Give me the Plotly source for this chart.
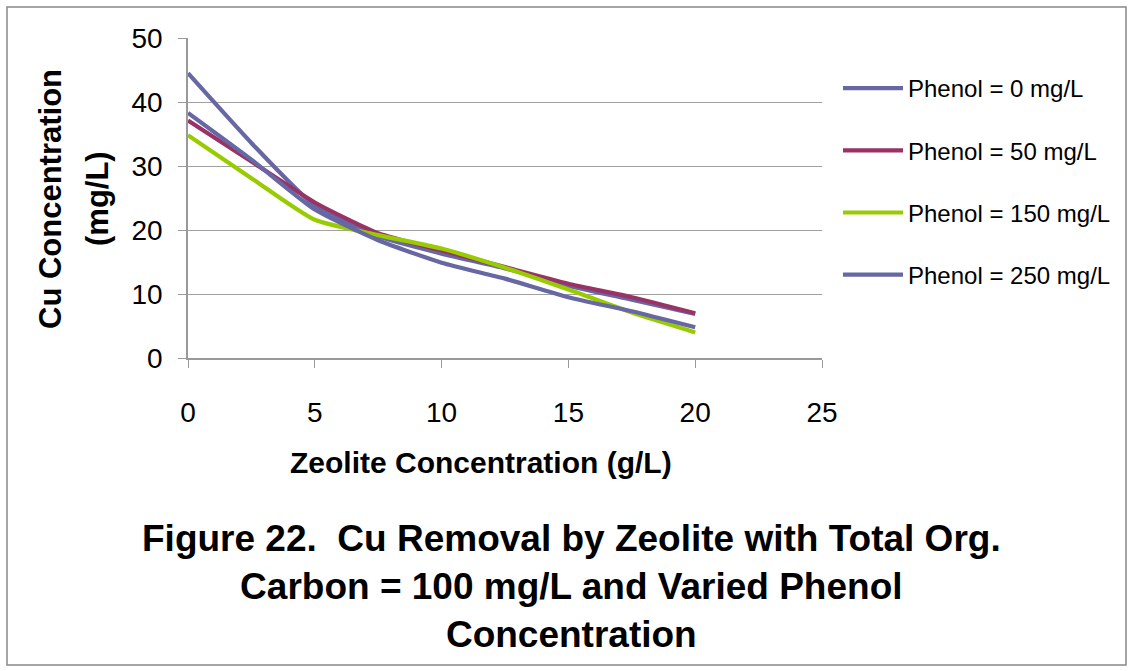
import plotly.graph_objects as go

# ---- data ----
zeolite = [0, 2.5, 5, 7.5, 10, 12.5, 15, 17.5, 20]
phenol_0 = [44.5, 33.6, 23.8, 19.0, 16.3, 14.0, 11.3, 9.1, 6.9]
phenol_50 = [37.1, 30.7, 24.3, 19.5, 16.8, 14.2, 11.6, 9.5, 7.0]
phenol_150 = [34.8, 28.1, 21.6, 19.2, 17.1, 14.1, 10.7, 7.1, 4.0]
phenol_250 = [38.3, 31.0, 23.2, 18.4, 14.9, 12.4, 9.5, 7.3, 4.8]
series_names = ["Phenol = 0 mg/L", "Phenol = 50 mg/L", "Phenol = 150 mg/L", "Phenol = 250 mg/L"]
series_colors = ["#6767A3", "#993366", "#99CC00", "#6767A3"]
x_ticks = [0, 5, 10, 15, 20, 25]
y_ticks = [0, 10, 20, 30, 40, 50]

W, H = 1133, 671
L, R, T, B = 188, 822, 38, 358
FONT = "Liberation Sans, Arial, sans-serif"

def px(xp):
    return (xp - L) / (R - L)

def py(yp):
    return (B - yp) / (B - T)

fig = go.Figure()
for i, (name, ys) in enumerate(zip(series_names, [phenol_0, phenol_50, phenol_150, phenol_250])):
    fig.add_trace(go.Scatter(
        x=zeolite, y=ys, mode="lines", name=name,
        line=dict(color=series_colors[i], width=4.2, shape="spline", smoothing=0.55),
        legendgroup=str(i),
    ))

fig.update_layout(
    width=W, height=H,
    margin=dict(l=L, r=W - R, t=T, b=H - B, pad=0),
    paper_bgcolor="white", plot_bgcolor="white",
    font=dict(family=FONT, color="black"),
    showlegend=True,
    legend=dict(
        x=px(838), y=py(66), xanchor="left", yanchor="top",
        font=dict(size=24, family=FONT, color="black"),
        tracegroupgap=28, itemwidth=60, bgcolor="rgba(0,0,0,0)",
    ),
    xaxis=dict(
        range=[0, 25], tickvals=x_ticks, ticks="outside", ticklen=8, tickcolor="#999999",
        showline=True, linecolor="#999999", linewidth=1.5, showgrid=False, zeroline=False,
        tickfont=dict(size=28, family=FONT), ticklabelstandoff=21,
    ),
    yaxis=dict(
        range=[0, 50], tickvals=y_ticks, ticks="outside", ticklen=8, tickcolor="#999999",
        showline=True, linecolor="#999999", linewidth=1.5, showgrid=True, gridcolor="#A0A0A0",
        gridwidth=1, zeroline=False, tickfont=dict(size=28, family=FONT), ticklabelstandoff=10,
    ),
)

annots = [
    dict(text="<b>Zeolite Concentration (g/L)</b>", x=px(481), y=py(462), size=30, angle=0),
    dict(text="<b>Cu Concentration</b>", x=px(50), y=py(199), size=31, angle=-90),
    dict(text="<b>(mg/L)</b>", x=px(97), y=py(199), size=31, angle=-90),
    dict(text="<b>Figure 22.  Cu Removal by Zeolite with Total Org.<br>Carbon = 100 mg/L and Varied Phenol<br>Concentration</b>",
         x=px(571), y=py(586), size=37, angle=0),
]
for a in annots:
    fig.add_annotation(text=a["text"], x=a["x"], y=a["y"], xref="paper", yref="paper",
                       xanchor="center", yanchor="middle", showarrow=False, textangle=a["angle"],
                       font=dict(size=a["size"], family=FONT, color="black"))

fig.add_shape(type="rect", xref="paper", yref="paper",
              x0=px(7), x1=px(1126), y0=py(665), y1=py(7),
              line=dict(color="#888888", width=1.5), fillcolor="rgba(0,0,0,0)", layer="below")

fig.write_html("out.html")
